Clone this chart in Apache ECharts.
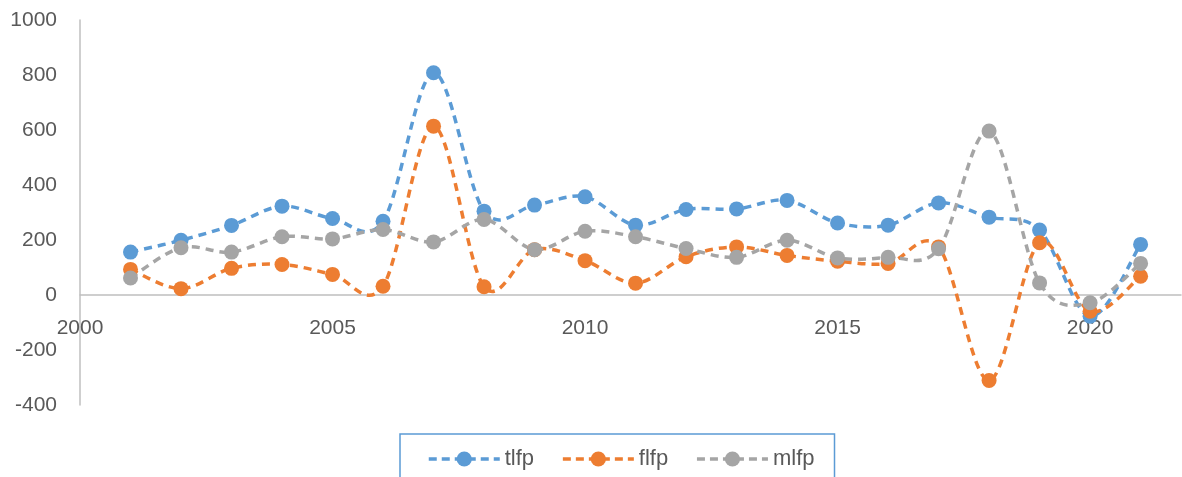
<!DOCTYPE html>
<html>
<head>
<meta charset="utf-8">
<script src="https://cdn.jsdelivr.net/npm/echarts@6/dist/echarts.min.js"></script>
<style>
  html, body { margin: 0; padding: 0; background: #fff; }
  #main { width: 1182px; height: 477px; }
</style>
</head>
<body>
<div id="main"></div>
<script>
var years = [2001, 2002, 2003, 2004, 2005, 2006, 2007, 2008, 2009, 2010, 2011,
             2012, 2013, 2014, 2015, 2016, 2017, 2018, 2019, 2020, 2021];
var tlfp = [156, 199, 253, 323, 278, 268, 808, 305, 327, 357, 254,
            311, 313, 344, 262, 254, 335, 283, 236, -77, 184];
var flfp = [93, 23, 97, 111, 75, 32, 614, 30, 165, 125, 43,
            139, 175, 144, 123, 115, 175, -311, 190, -59, 68];
var mlfp = [62, 172, 156, 212, 204, 238, 193, 275, 165, 232, 212,
            169, 137, 199, 135, 137, 168, 596, 44, -28, 115];

var names = ['tlfp', 'flfp', 'mlfp'];
var colors = ['#5B9BD5', '#ED7D31', '#A5A5A5'];
var values = [tlfp, flfp, mlfp];

function pairs(arr) {
  return years.map(function (y, i) { return [y, arr[i]]; });
}

// excel-style smoothed line: catmull-rom through the pixel coords from api.coord
function curveSeries(arr, color) {
  return {
    type: 'custom',
    name: '_curve',
    silent: true,
    clip: false,
    data: pairs(arr),
    renderItem: function (params, api) {
      if (params.dataIndex !== 0) return;
      var p = years.map(function (y, i) { return api.coord([y, arr[i]]); });
      var d = 'M' + p[0][0] + ' ' + p[0][1];
      for (var i = 0; i < p.length - 1; i++) {
        var a = p[i - 1] || p[i], b = p[i], c = p[i + 1], e = p[i + 2] || p[i + 1];
        var c1x = b[0] + (c[0] - a[0]) / 6, c1y = b[1] + (c[1] - a[1]) / 6;
        var c2x = c[0] - (e[0] - b[0]) / 6, c2y = c[1] - (e[1] - b[1]) / 6;
        d += ' C' + c1x + ' ' + c1y + ' ' + c2x + ' ' + c2y + ' ' + c[0] + ' ' + c[1];
      }
      return {
        type: 'path',
        shape: { pathData: d },
        style: { fill: null, stroke: color, lineWidth: 3.5, lineDash: [8, 6], lineCap: 'butt' }
      };
    }
  };
}

var series = [];
names.forEach(function (n, i) {
  series.push(curveSeries(values[i], colors[i]));
  series.push({
    name: n,
    type: 'line',
    data: pairs(values[i]),
    symbol: 'circle',
    symbolSize: 15,
    lineStyle: { color: colors[i], width: 3, type: [7, 5], opacity: 0 },
    itemStyle: { color: colors[i] }
  });
});

var chart = echarts.init(document.getElementById('main'));
chart.setOption({
  animation: false,
  textStyle: { fontFamily: 'Liberation Sans, Arial, sans-serif' },
  grid: { left: 80, right: 1, top: 20, bottom: 72 },
  xAxis: {
    type: 'value',
    min: 2000,
    max: 2021.8,
    interval: 5,
    offset: -110,
    axisLine: { onZero: false, lineStyle: { color: '#BFBFBF', width: 1.5 } },
    axisTick: { show: false },
    splitLine: { show: false },
    axisLabel: {
      color: '#595959', fontSize: 21, margin: 23,
      showMaxLabel: false,
      formatter: function (v) { return String(v); }
    }
  },
  yAxis: {
    type: 'value',
    min: -400,
    max: 1000,
    interval: 200,
    axisLine: { show: true, lineStyle: { color: '#BFBFBF', width: 1.5 } },
    axisTick: { show: false },
    splitLine: { show: false },
    axisLabel: {
      color: '#595959', fontSize: 21, margin: 23,
      formatter: function (v) { return String(v); }
    }
  },
  legend: {
    left: 400,
    top: 434,
    padding: [14, 20, 20, 27],
    borderColor: '#5B9BD5',
    borderWidth: 1.5,
    itemWidth: 71,
    itemHeight: 19,
    itemGap: 27,
    lineStyle: { opacity: 1, width: 3.5, type: [8, 5] },
    textStyle: { color: '#595959', fontSize: 22 },
    data: names
  },
  series: series
});
</script>
</body>
</html>
